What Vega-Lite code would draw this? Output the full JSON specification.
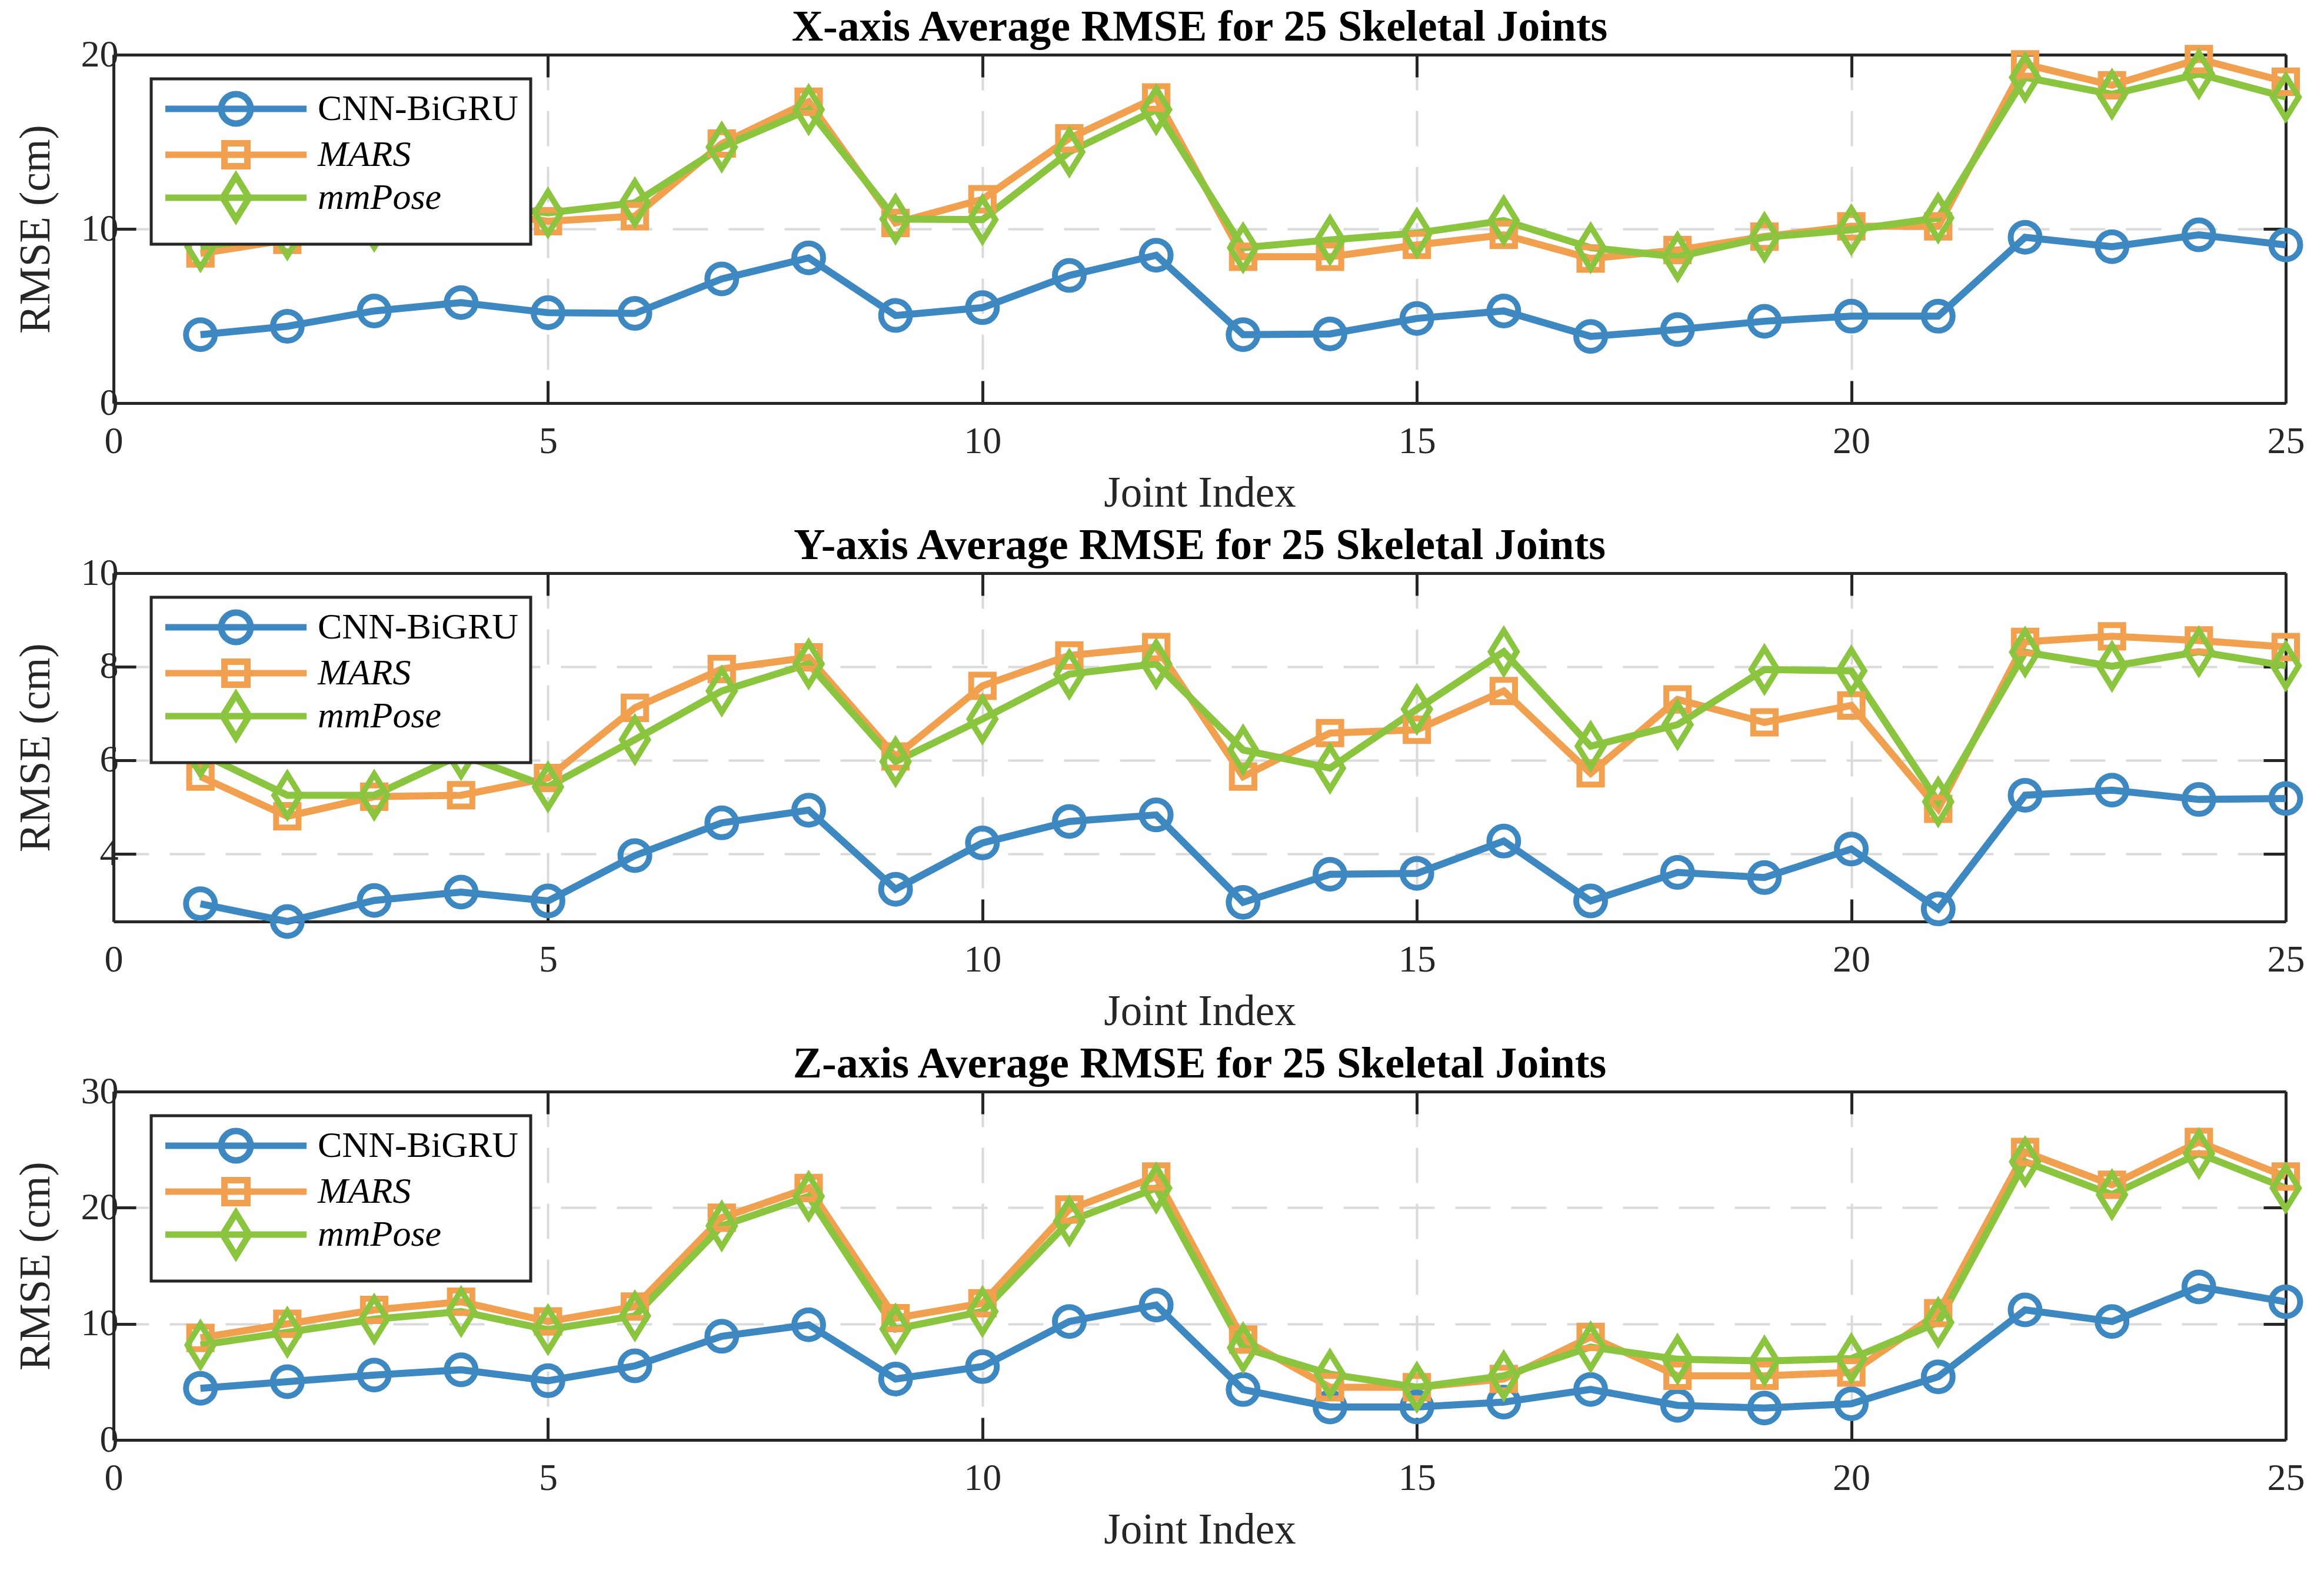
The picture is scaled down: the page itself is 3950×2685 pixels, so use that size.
{
  "$schema": "https://vega.github.io/schema/vega-lite/v6.json",
  "background": "white",
  "padding": {"left": 25, "top": 10, "right": 0, "bottom": 0},
  "spacing": 16,
  "config": {
    "font": "Liberation Serif",
    "view": {"stroke": null},
    "axis": {
      "domainColor": "#262626",
      "domainWidth": 5,
      "tickColor": "#262626",
      "tickWidth": 5,
      "tickSize": -38,
      "labelFont": "Liberation Serif",
      "labelFontSize": 64,
      "labelColor": "#262626",
      "labelFlush": false,
      "labelOverlap": false,
      "titleFont": "Liberation Serif",
      "titleFontSize": 73,
      "titleFontWeight": "normal",
      "titleColor": "#262626",
      "gridColor": "#dadada",
      "gridWidth": 4,
      "gridDash": [60, 35]
    },
    "axisX": {"labelPadding": 71, "titlePadding": 20},
    "axisY": {"labelPadding": 30, "titlePadding": 39},
    "legend": {
      "orient": "none",
      "legendX": 64,
      "legendY": 41,
      "padding": 20,
      "symbolSize": 2500,
      "symbolOffset": 93,
      "labelOffset": 108,
      "rowPadding": -29,
      "labelFont": "Liberation Serif",
      "labelFontSize": 62,
      "labelColor": "black",
      "labelLimit": 2000,
      "strokeColor": "#262626",
      "fillColor": "white",
      "symbolStrokeWidth": 11
    },
    "title": {
      "font": "Liberation Serif",
      "fontSize": 74,
      "fontWeight": "bold",
      "color": "black",
      "anchor": "middle",
      "baseline": "alphabetic",
      "offset": -24
    }
  },
  "datasets": {
    "rmse": [
      {"axis": "X", "joint": 1, "method": "CNN-BiGRU", "rmse": 3.93},
      {"axis": "X", "joint": 2, "method": "CNN-BiGRU", "rmse": 4.41},
      {"axis": "X", "joint": 3, "method": "CNN-BiGRU", "rmse": 5.29},
      {"axis": "X", "joint": 4, "method": "CNN-BiGRU", "rmse": 5.77},
      {"axis": "X", "joint": 5, "method": "CNN-BiGRU", "rmse": 5.19},
      {"axis": "X", "joint": 6, "method": "CNN-BiGRU", "rmse": 5.15},
      {"axis": "X", "joint": 7, "method": "CNN-BiGRU", "rmse": 7.13},
      {"axis": "X", "joint": 8, "method": "CNN-BiGRU", "rmse": 8.34},
      {"axis": "X", "joint": 9, "method": "CNN-BiGRU", "rmse": 5.03},
      {"axis": "X", "joint": 10, "method": "CNN-BiGRU", "rmse": 5.48},
      {"axis": "X", "joint": 11, "method": "CNN-BiGRU", "rmse": 7.33},
      {"axis": "X", "joint": 12, "method": "CNN-BiGRU", "rmse": 8.49},
      {"axis": "X", "joint": 13, "method": "CNN-BiGRU", "rmse": 3.93},
      {"axis": "X", "joint": 14, "method": "CNN-BiGRU", "rmse": 3.97},
      {"axis": "X", "joint": 15, "method": "CNN-BiGRU", "rmse": 4.86},
      {"axis": "X", "joint": 16, "method": "CNN-BiGRU", "rmse": 5.29},
      {"axis": "X", "joint": 17, "method": "CNN-BiGRU", "rmse": 3.83},
      {"axis": "X", "joint": 18, "method": "CNN-BiGRU", "rmse": 4.22},
      {"axis": "X", "joint": 19, "method": "CNN-BiGRU", "rmse": 4.7},
      {"axis": "X", "joint": 20, "method": "CNN-BiGRU", "rmse": 4.99},
      {"axis": "X", "joint": 21, "method": "CNN-BiGRU", "rmse": 4.99},
      {"axis": "X", "joint": 22, "method": "CNN-BiGRU", "rmse": 9.52},
      {"axis": "X", "joint": 23, "method": "CNN-BiGRU", "rmse": 8.98},
      {"axis": "X", "joint": 24, "method": "CNN-BiGRU", "rmse": 9.66},
      {"axis": "X", "joint": 25, "method": "CNN-BiGRU", "rmse": 9.08},
      {"axis": "X", "joint": 1, "method": "MARS", "rmse": 8.59},
      {"axis": "X", "joint": 2, "method": "MARS", "rmse": 9.37},
      {"axis": "X", "joint": 3, "method": "MARS", "rmse": 10.24},
      {"axis": "X", "joint": 4, "method": "MARS", "rmse": 11.1},
      {"axis": "X", "joint": 5, "method": "MARS", "rmse": 10.44},
      {"axis": "X", "joint": 6, "method": "MARS", "rmse": 10.73},
      {"axis": "X", "joint": 7, "method": "MARS", "rmse": 14.9},
      {"axis": "X", "joint": 8, "method": "MARS", "rmse": 17.3},
      {"axis": "X", "joint": 9, "method": "MARS", "rmse": 10.34},
      {"axis": "X", "joint": 10, "method": "MARS", "rmse": 11.7},
      {"axis": "X", "joint": 11, "method": "MARS", "rmse": 15.2},
      {"axis": "X", "joint": 12, "method": "MARS", "rmse": 17.55},
      {"axis": "X", "joint": 13, "method": "MARS", "rmse": 8.4},
      {"axis": "X", "joint": 14, "method": "MARS", "rmse": 8.4},
      {"axis": "X", "joint": 15, "method": "MARS", "rmse": 9.08},
      {"axis": "X", "joint": 16, "method": "MARS", "rmse": 9.66},
      {"axis": "X", "joint": 17, "method": "MARS", "rmse": 8.3},
      {"axis": "X", "joint": 18, "method": "MARS", "rmse": 8.79},
      {"axis": "X", "joint": 19, "method": "MARS", "rmse": 9.56},
      {"axis": "X", "joint": 20, "method": "MARS", "rmse": 10.15},
      {"axis": "X", "joint": 21, "method": "MARS", "rmse": 10.15},
      {"axis": "X", "joint": 22, "method": "MARS", "rmse": 19.45},
      {"axis": "X", "joint": 23, "method": "MARS", "rmse": 18.25},
      {"axis": "X", "joint": 24, "method": "MARS", "rmse": 19.75},
      {"axis": "X", "joint": 25, "method": "MARS", "rmse": 18.45},
      {"axis": "X", "joint": 1, "method": "mmPose", "rmse": 8.98},
      {"axis": "X", "joint": 2, "method": "mmPose", "rmse": 9.66},
      {"axis": "X", "joint": 3, "method": "mmPose", "rmse": 10.15},
      {"axis": "X", "joint": 4, "method": "mmPose", "rmse": 11.5},
      {"axis": "X", "joint": 5, "method": "mmPose", "rmse": 10.92},
      {"axis": "X", "joint": 6, "method": "mmPose", "rmse": 11.5},
      {"axis": "X", "joint": 7, "method": "mmPose", "rmse": 14.7},
      {"axis": "X", "joint": 8, "method": "mmPose", "rmse": 16.85},
      {"axis": "X", "joint": 9, "method": "mmPose", "rmse": 10.57},
      {"axis": "X", "joint": 10, "method": "mmPose", "rmse": 10.53},
      {"axis": "X", "joint": 11, "method": "mmPose", "rmse": 14.42},
      {"axis": "X", "joint": 12, "method": "mmPose", "rmse": 16.85},
      {"axis": "X", "joint": 13, "method": "mmPose", "rmse": 8.92},
      {"axis": "X", "joint": 14, "method": "mmPose", "rmse": 9.37},
      {"axis": "X", "joint": 15, "method": "mmPose", "rmse": 9.76},
      {"axis": "X", "joint": 16, "method": "mmPose", "rmse": 10.48},
      {"axis": "X", "joint": 17, "method": "mmPose", "rmse": 8.92},
      {"axis": "X", "joint": 18, "method": "mmPose", "rmse": 8.4},
      {"axis": "X", "joint": 19, "method": "mmPose", "rmse": 9.52},
      {"axis": "X", "joint": 20, "method": "mmPose", "rmse": 9.95},
      {"axis": "X", "joint": 21, "method": "mmPose", "rmse": 10.63},
      {"axis": "X", "joint": 22, "method": "mmPose", "rmse": 18.7},
      {"axis": "X", "joint": 23, "method": "mmPose", "rmse": 17.73},
      {"axis": "X", "joint": 24, "method": "mmPose", "rmse": 18.9},
      {"axis": "X", "joint": 25, "method": "mmPose", "rmse": 17.57},
      {"axis": "Y", "joint": 1, "method": "CNN-BiGRU", "rmse": 2.93},
      {"axis": "Y", "joint": 2, "method": "CNN-BiGRU", "rmse": 2.55},
      {"axis": "Y", "joint": 3, "method": "CNN-BiGRU", "rmse": 3.0},
      {"axis": "Y", "joint": 4, "method": "CNN-BiGRU", "rmse": 3.18},
      {"axis": "Y", "joint": 5, "method": "CNN-BiGRU", "rmse": 2.99},
      {"axis": "Y", "joint": 6, "method": "CNN-BiGRU", "rmse": 3.96},
      {"axis": "Y", "joint": 7, "method": "CNN-BiGRU", "rmse": 4.66},
      {"axis": "Y", "joint": 8, "method": "CNN-BiGRU", "rmse": 4.93},
      {"axis": "Y", "joint": 9, "method": "CNN-BiGRU", "rmse": 3.24},
      {"axis": "Y", "joint": 10, "method": "CNN-BiGRU", "rmse": 4.23},
      {"axis": "Y", "joint": 11, "method": "CNN-BiGRU", "rmse": 4.69},
      {"axis": "Y", "joint": 12, "method": "CNN-BiGRU", "rmse": 4.83},
      {"axis": "Y", "joint": 13, "method": "CNN-BiGRU", "rmse": 2.96},
      {"axis": "Y", "joint": 14, "method": "CNN-BiGRU", "rmse": 3.56},
      {"axis": "Y", "joint": 15, "method": "CNN-BiGRU", "rmse": 3.58},
      {"axis": "Y", "joint": 16, "method": "CNN-BiGRU", "rmse": 4.27},
      {"axis": "Y", "joint": 17, "method": "CNN-BiGRU", "rmse": 2.99},
      {"axis": "Y", "joint": 18, "method": "CNN-BiGRU", "rmse": 3.6},
      {"axis": "Y", "joint": 19, "method": "CNN-BiGRU", "rmse": 3.49},
      {"axis": "Y", "joint": 20, "method": "CNN-BiGRU", "rmse": 4.1},
      {"axis": "Y", "joint": 21, "method": "CNN-BiGRU", "rmse": 2.82},
      {"axis": "Y", "joint": 22, "method": "CNN-BiGRU", "rmse": 5.25},
      {"axis": "Y", "joint": 23, "method": "CNN-BiGRU", "rmse": 5.36},
      {"axis": "Y", "joint": 24, "method": "CNN-BiGRU", "rmse": 5.16},
      {"axis": "Y", "joint": 25, "method": "CNN-BiGRU", "rmse": 5.18},
      {"axis": "Y", "joint": 1, "method": "MARS", "rmse": 5.65},
      {"axis": "Y", "joint": 2, "method": "MARS", "rmse": 4.8},
      {"axis": "Y", "joint": 3, "method": "MARS", "rmse": 5.22},
      {"axis": "Y", "joint": 4, "method": "MARS", "rmse": 5.25},
      {"axis": "Y", "joint": 5, "method": "MARS", "rmse": 5.62},
      {"axis": "Y", "joint": 6, "method": "MARS", "rmse": 7.12},
      {"axis": "Y", "joint": 7, "method": "MARS", "rmse": 7.95},
      {"axis": "Y", "joint": 8, "method": "MARS", "rmse": 8.2},
      {"axis": "Y", "joint": 9, "method": "MARS", "rmse": 6.08},
      {"axis": "Y", "joint": 10, "method": "MARS", "rmse": 7.59},
      {"axis": "Y", "joint": 11, "method": "MARS", "rmse": 8.24},
      {"axis": "Y", "joint": 12, "method": "MARS", "rmse": 8.42},
      {"axis": "Y", "joint": 13, "method": "MARS", "rmse": 5.65},
      {"axis": "Y", "joint": 14, "method": "MARS", "rmse": 6.58},
      {"axis": "Y", "joint": 15, "method": "MARS", "rmse": 6.65},
      {"axis": "Y", "joint": 16, "method": "MARS", "rmse": 7.48},
      {"axis": "Y", "joint": 17, "method": "MARS", "rmse": 5.72},
      {"axis": "Y", "joint": 18, "method": "MARS", "rmse": 7.3},
      {"axis": "Y", "joint": 19, "method": "MARS", "rmse": 6.81},
      {"axis": "Y", "joint": 20, "method": "MARS", "rmse": 7.17},
      {"axis": "Y", "joint": 21, "method": "MARS", "rmse": 4.96},
      {"axis": "Y", "joint": 22, "method": "MARS", "rmse": 8.53},
      {"axis": "Y", "joint": 23, "method": "MARS", "rmse": 8.65},
      {"axis": "Y", "joint": 24, "method": "MARS", "rmse": 8.56},
      {"axis": "Y", "joint": 25, "method": "MARS", "rmse": 8.42},
      {"axis": "Y", "joint": 1, "method": "mmPose", "rmse": 6.15},
      {"axis": "Y", "joint": 2, "method": "mmPose", "rmse": 5.25},
      {"axis": "Y", "joint": 3, "method": "mmPose", "rmse": 5.25},
      {"axis": "Y", "joint": 4, "method": "mmPose", "rmse": 6.12},
      {"axis": "Y", "joint": 5, "method": "mmPose", "rmse": 5.43},
      {"axis": "Y", "joint": 6, "method": "mmPose", "rmse": 6.44},
      {"axis": "Y", "joint": 7, "method": "mmPose", "rmse": 7.48},
      {"axis": "Y", "joint": 8, "method": "mmPose", "rmse": 8.06},
      {"axis": "Y", "joint": 9, "method": "mmPose", "rmse": 5.97},
      {"axis": "Y", "joint": 10, "method": "mmPose", "rmse": 6.88},
      {"axis": "Y", "joint": 11, "method": "mmPose", "rmse": 7.84},
      {"axis": "Y", "joint": 12, "method": "mmPose", "rmse": 8.06},
      {"axis": "Y", "joint": 13, "method": "mmPose", "rmse": 6.22},
      {"axis": "Y", "joint": 14, "method": "mmPose", "rmse": 5.83},
      {"axis": "Y", "joint": 15, "method": "mmPose", "rmse": 7.09},
      {"axis": "Y", "joint": 16, "method": "mmPose", "rmse": 8.32},
      {"axis": "Y", "joint": 17, "method": "mmPose", "rmse": 6.3},
      {"axis": "Y", "joint": 18, "method": "mmPose", "rmse": 6.76},
      {"axis": "Y", "joint": 19, "method": "mmPose", "rmse": 7.94},
      {"axis": "Y", "joint": 20, "method": "mmPose", "rmse": 7.91},
      {"axis": "Y", "joint": 21, "method": "mmPose", "rmse": 5.11},
      {"axis": "Y", "joint": 22, "method": "mmPose", "rmse": 8.31},
      {"axis": "Y", "joint": 23, "method": "mmPose", "rmse": 8.01},
      {"axis": "Y", "joint": 24, "method": "mmPose", "rmse": 8.32},
      {"axis": "Y", "joint": 25, "method": "mmPose", "rmse": 8.02},
      {"axis": "Z", "joint": 1, "method": "CNN-BiGRU", "rmse": 4.45},
      {"axis": "Z", "joint": 2, "method": "CNN-BiGRU", "rmse": 5.02},
      {"axis": "Z", "joint": 3, "method": "CNN-BiGRU", "rmse": 5.59},
      {"axis": "Z", "joint": 4, "method": "CNN-BiGRU", "rmse": 6.04},
      {"axis": "Z", "joint": 5, "method": "CNN-BiGRU", "rmse": 5.1},
      {"axis": "Z", "joint": 6, "method": "CNN-BiGRU", "rmse": 6.38},
      {"axis": "Z", "joint": 7, "method": "CNN-BiGRU", "rmse": 8.93},
      {"axis": "Z", "joint": 8, "method": "CNN-BiGRU", "rmse": 9.92},
      {"axis": "Z", "joint": 9, "method": "CNN-BiGRU", "rmse": 5.25},
      {"axis": "Z", "joint": 10, "method": "CNN-BiGRU", "rmse": 6.32},
      {"axis": "Z", "joint": 11, "method": "CNN-BiGRU", "rmse": 10.2},
      {"axis": "Z", "joint": 12, "method": "CNN-BiGRU", "rmse": 11.62},
      {"axis": "Z", "joint": 13, "method": "CNN-BiGRU", "rmse": 4.34},
      {"axis": "Z", "joint": 14, "method": "CNN-BiGRU", "rmse": 2.84},
      {"axis": "Z", "joint": 15, "method": "CNN-BiGRU", "rmse": 2.84},
      {"axis": "Z", "joint": 16, "method": "CNN-BiGRU", "rmse": 3.26},
      {"axis": "Z", "joint": 17, "method": "CNN-BiGRU", "rmse": 4.35},
      {"axis": "Z", "joint": 18, "method": "CNN-BiGRU", "rmse": 2.98},
      {"axis": "Z", "joint": 19, "method": "CNN-BiGRU", "rmse": 2.75},
      {"axis": "Z", "joint": 20, "method": "CNN-BiGRU", "rmse": 3.12},
      {"axis": "Z", "joint": 21, "method": "CNN-BiGRU", "rmse": 5.44},
      {"axis": "Z", "joint": 22, "method": "CNN-BiGRU", "rmse": 11.2},
      {"axis": "Z", "joint": 23, "method": "CNN-BiGRU", "rmse": 10.2},
      {"axis": "Z", "joint": 24, "method": "CNN-BiGRU", "rmse": 13.18},
      {"axis": "Z", "joint": 25, "method": "CNN-BiGRU", "rmse": 11.9},
      {"axis": "Z", "joint": 1, "method": "MARS", "rmse": 8.79},
      {"axis": "Z", "joint": 2, "method": "MARS", "rmse": 10.0},
      {"axis": "Z", "joint": 3, "method": "MARS", "rmse": 11.2},
      {"axis": "Z", "joint": 4, "method": "MARS", "rmse": 11.9},
      {"axis": "Z", "joint": 5, "method": "MARS", "rmse": 10.2},
      {"axis": "Z", "joint": 6, "method": "MARS", "rmse": 11.48},
      {"axis": "Z", "joint": 7, "method": "MARS", "rmse": 19.14},
      {"axis": "Z", "joint": 8, "method": "MARS", "rmse": 21.7},
      {"axis": "Z", "joint": 9, "method": "MARS", "rmse": 10.49},
      {"axis": "Z", "joint": 10, "method": "MARS", "rmse": 11.77},
      {"axis": "Z", "joint": 11, "method": "MARS", "rmse": 19.85},
      {"axis": "Z", "joint": 12, "method": "MARS", "rmse": 22.68},
      {"axis": "Z", "joint": 13, "method": "MARS", "rmse": 8.65},
      {"axis": "Z", "joint": 14, "method": "MARS", "rmse": 4.54},
      {"axis": "Z", "joint": 15, "method": "MARS", "rmse": 4.54},
      {"axis": "Z", "joint": 16, "method": "MARS", "rmse": 5.25},
      {"axis": "Z", "joint": 17, "method": "MARS", "rmse": 8.87},
      {"axis": "Z", "joint": 18, "method": "MARS", "rmse": 5.53},
      {"axis": "Z", "joint": 19, "method": "MARS", "rmse": 5.53},
      {"axis": "Z", "joint": 20, "method": "MARS", "rmse": 5.81},
      {"axis": "Z", "joint": 21, "method": "MARS", "rmse": 10.92},
      {"axis": "Z", "joint": 22, "method": "MARS", "rmse": 24.8},
      {"axis": "Z", "joint": 23, "method": "MARS", "rmse": 21.97},
      {"axis": "Z", "joint": 24, "method": "MARS", "rmse": 25.66},
      {"axis": "Z", "joint": 25, "method": "MARS", "rmse": 22.68},
      {"axis": "Z", "joint": 1, "method": "mmPose", "rmse": 8.17},
      {"axis": "Z", "joint": 2, "method": "mmPose", "rmse": 9.27},
      {"axis": "Z", "joint": 3, "method": "mmPose", "rmse": 10.4},
      {"axis": "Z", "joint": 4, "method": "mmPose", "rmse": 11.06},
      {"axis": "Z", "joint": 5, "method": "mmPose", "rmse": 9.5},
      {"axis": "Z", "joint": 6, "method": "mmPose", "rmse": 10.69},
      {"axis": "Z", "joint": 7, "method": "mmPose", "rmse": 18.43},
      {"axis": "Z", "joint": 8, "method": "mmPose", "rmse": 20.98},
      {"axis": "Z", "joint": 9, "method": "mmPose", "rmse": 9.55},
      {"axis": "Z", "joint": 10, "method": "mmPose", "rmse": 11.06},
      {"axis": "Z", "joint": 11, "method": "mmPose", "rmse": 18.85},
      {"axis": "Z", "joint": 12, "method": "mmPose", "rmse": 21.69},
      {"axis": "Z", "joint": 13, "method": "mmPose", "rmse": 7.94},
      {"axis": "Z", "joint": 14, "method": "mmPose", "rmse": 5.67},
      {"axis": "Z", "joint": 15, "method": "mmPose", "rmse": 4.54},
      {"axis": "Z", "joint": 16, "method": "mmPose", "rmse": 5.53},
      {"axis": "Z", "joint": 17, "method": "mmPose", "rmse": 8.0},
      {"axis": "Z", "joint": 18, "method": "mmPose", "rmse": 6.95},
      {"axis": "Z", "joint": 19, "method": "mmPose", "rmse": 6.8},
      {"axis": "Z", "joint": 20, "method": "mmPose", "rmse": 7.0},
      {"axis": "Z", "joint": 21, "method": "mmPose", "rmse": 10.12},
      {"axis": "Z", "joint": 22, "method": "mmPose", "rmse": 23.96},
      {"axis": "Z", "joint": 23, "method": "mmPose", "rmse": 21.12},
      {"axis": "Z", "joint": 24, "method": "mmPose", "rmse": 24.67},
      {"axis": "Z", "joint": 25, "method": "mmPose", "rmse": 21.69}
    ]
  },
  "vconcat": [
    {
      "width": 3692,
      "height": 592,
      "title": "X-axis Average RMSE for 25 Skeletal Joints",
      "data": {"name": "rmse"},
      "transform": [{"filter": "datum.axis == 'X'"}],
      "layer": [
        {
          "mark": {"type": "line", "strokeWidth": 12},
          "encoding": {
            "x": {"field": "joint", "type": "quantitative", "scale": {"domain": [0, 25], "nice": false},
                  "axis": {"orient": "bottom", "values": [0, 5, 10, 15, 20, 25], "title": "Joint Index"}},
            "y": {"field": "rmse", "type": "quantitative", "scale": {"domain": [0, 20], "nice": false, "zero": false},
                  "axis": {"orient": "left", "values": [0, 10, 20], "title": "RMSE (cm)"}},
            "color": {"field": "method", "type": "nominal",
                      "scale": {"domain": ["CNN-BiGRU", "MARS", "mmPose"], "range": ["#3D88C1", "#F0A04F", "#8BC53F"]}}
          }
        },
        {
          "mark": {"type": "point", "filled": false, "strokeWidth": 10, "size": 2400, "opacity": 1},
          "encoding": {
            "x": {"field": "joint", "type": "quantitative",
                  "axis": {"orient": "top", "values": [0, 5, 10, 15, 20, 25], "labels": false, "title": null, "grid": false}},
            "y": {"field": "rmse", "type": "quantitative",
                  "axis": {"orient": "right", "values": [0, 10, 20], "labels": false, "title": null, "grid": false}},
            "color": {"field": "method", "type": "nominal",
                      "legend": {"title": null,
                                 "encoding": {
                                   "legend": {"strokeWidth": {"value": 5}},
                                   "symbols": {"shape": {"value": {"expr": "datum.value == 'CNN-BiGRU' ? 'M-4.8,0H4.8M-1,0A1,1,0,1,1,1,0A1,1,0,1,1,-1,0Z' : datum.value == 'MARS' ? 'M-4.8,0H4.8M-0.78,-0.78H0.78V0.78H-0.78Z' : 'M-4.8,0H4.8M0,-1.46L0.9,0L0,1.46L-0.9,0Z'"}}},
                                   "labels": {"fontStyle": {"value": {"expr": "datum.value == 'CNN-BiGRU' ? 'normal' : 'italic'"}}}
                                 }}},
            "shape": {"condition": [{"test": "datum.method == 'MARS'", "value": "M-0.78,-0.78H0.78V0.78H-0.78Z"},
                                    {"test": "datum.method == 'mmPose'", "value": "M0,-1.46L0.9,0L0,1.46L-0.9,0Z"}],
                      "value": "circle"}
          }
        }
      ],
      "resolve": {"axis": {"x": "independent", "y": "independent"}}
    },
    {
      "width": 3692,
      "height": 592,
      "title": "Y-axis Average RMSE for 25 Skeletal Joints",
      "data": {"name": "rmse"},
      "transform": [{"filter": "datum.axis == 'Y'"}],
      "layer": [
        {
          "mark": {"type": "line", "strokeWidth": 12},
          "encoding": {
            "x": {"field": "joint", "type": "quantitative", "scale": {"domain": [0, 25], "nice": false},
                  "axis": {"orient": "bottom", "values": [0, 5, 10, 15, 20, 25], "title": "Joint Index"}},
            "y": {"field": "rmse", "type": "quantitative", "scale": {"domain": [2.55, 10], "nice": false, "zero": false},
                  "axis": {"orient": "left", "values": [4, 6, 8, 10], "title": "RMSE (cm)"}},
            "color": {"field": "method", "type": "nominal",
                      "scale": {"domain": ["CNN-BiGRU", "MARS", "mmPose"], "range": ["#3D88C1", "#F0A04F", "#8BC53F"]}}
          }
        },
        {
          "mark": {"type": "point", "filled": false, "strokeWidth": 10, "size": 2400, "opacity": 1},
          "encoding": {
            "x": {"field": "joint", "type": "quantitative",
                  "axis": {"orient": "top", "values": [0, 5, 10, 15, 20, 25], "labels": false, "title": null, "grid": false}},
            "y": {"field": "rmse", "type": "quantitative",
                  "axis": {"orient": "right", "values": [4, 6, 8, 10], "labels": false, "title": null, "grid": false}},
            "color": {"field": "method", "type": "nominal",
                      "legend": {"title": null,
                                 "encoding": {
                                   "legend": {"strokeWidth": {"value": 5}},
                                   "symbols": {"shape": {"value": {"expr": "datum.value == 'CNN-BiGRU' ? 'M-4.8,0H4.8M-1,0A1,1,0,1,1,1,0A1,1,0,1,1,-1,0Z' : datum.value == 'MARS' ? 'M-4.8,0H4.8M-0.78,-0.78H0.78V0.78H-0.78Z' : 'M-4.8,0H4.8M0,-1.46L0.9,0L0,1.46L-0.9,0Z'"}}},
                                   "labels": {"fontStyle": {"value": {"expr": "datum.value == 'CNN-BiGRU' ? 'normal' : 'italic'"}}}
                                 }}},
            "shape": {"condition": [{"test": "datum.method == 'MARS'", "value": "M-0.78,-0.78H0.78V0.78H-0.78Z"},
                                    {"test": "datum.method == 'mmPose'", "value": "M0,-1.46L0.9,0L0,1.46L-0.9,0Z"}],
                      "value": "circle"}
          }
        }
      ],
      "resolve": {"axis": {"x": "independent", "y": "independent"}}
    },
    {
      "width": 3692,
      "height": 592,
      "title": "Z-axis Average RMSE for 25 Skeletal Joints",
      "data": {"name": "rmse"},
      "transform": [{"filter": "datum.axis == 'Z'"}],
      "layer": [
        {
          "mark": {"type": "line", "strokeWidth": 12},
          "encoding": {
            "x": {"field": "joint", "type": "quantitative", "scale": {"domain": [0, 25], "nice": false},
                  "axis": {"orient": "bottom", "values": [0, 5, 10, 15, 20, 25], "title": "Joint Index"}},
            "y": {"field": "rmse", "type": "quantitative", "scale": {"domain": [0, 30], "nice": false, "zero": false},
                  "axis": {"orient": "left", "values": [0, 10, 20, 30], "title": "RMSE (cm)"}},
            "color": {"field": "method", "type": "nominal",
                      "scale": {"domain": ["CNN-BiGRU", "MARS", "mmPose"], "range": ["#3D88C1", "#F0A04F", "#8BC53F"]}}
          }
        },
        {
          "mark": {"type": "point", "filled": false, "strokeWidth": 10, "size": 2400, "opacity": 1},
          "encoding": {
            "x": {"field": "joint", "type": "quantitative",
                  "axis": {"orient": "top", "values": [0, 5, 10, 15, 20, 25], "labels": false, "title": null, "grid": false}},
            "y": {"field": "rmse", "type": "quantitative",
                  "axis": {"orient": "right", "values": [0, 10, 20, 30], "labels": false, "title": null, "grid": false}},
            "color": {"field": "method", "type": "nominal",
                      "legend": {"title": null,
                                 "encoding": {
                                   "legend": {"strokeWidth": {"value": 5}},
                                   "symbols": {"shape": {"value": {"expr": "datum.value == 'CNN-BiGRU' ? 'M-4.8,0H4.8M-1,0A1,1,0,1,1,1,0A1,1,0,1,1,-1,0Z' : datum.value == 'MARS' ? 'M-4.8,0H4.8M-0.78,-0.78H0.78V0.78H-0.78Z' : 'M-4.8,0H4.8M0,-1.46L0.9,0L0,1.46L-0.9,0Z'"}}},
                                   "labels": {"fontStyle": {"value": {"expr": "datum.value == 'CNN-BiGRU' ? 'normal' : 'italic'"}}}
                                 }}},
            "shape": {"condition": [{"test": "datum.method == 'MARS'", "value": "M-0.78,-0.78H0.78V0.78H-0.78Z"},
                                    {"test": "datum.method == 'mmPose'", "value": "M0,-1.46L0.9,0L0,1.46L-0.9,0Z"}],
                      "value": "circle"}
          }
        }
      ],
      "resolve": {"axis": {"x": "independent", "y": "independent"}}
    }
  ],
  "resolve": {"scale": {"color": "independent"}}
}
